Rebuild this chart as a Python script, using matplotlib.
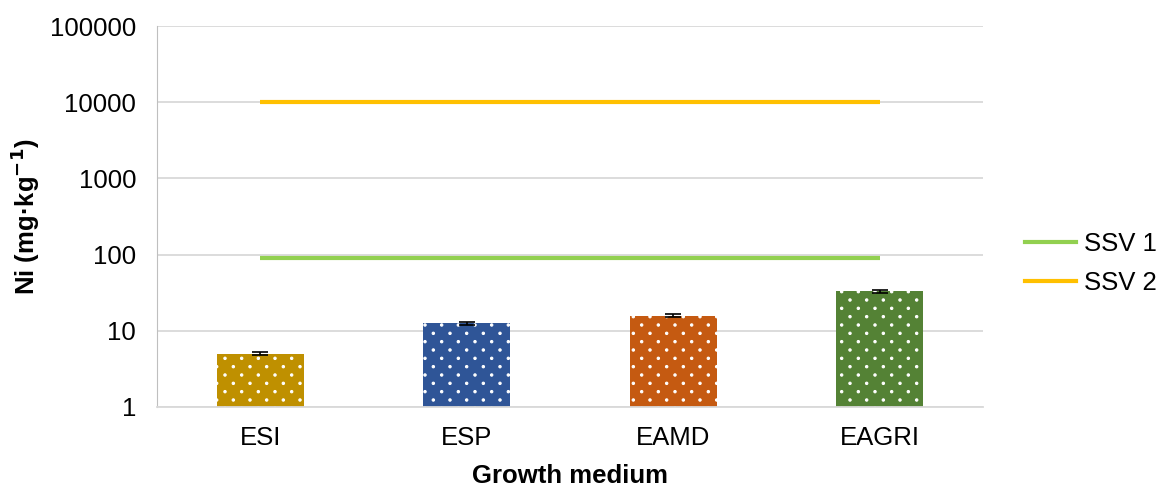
import matplotlib

matplotlib.use("Agg")

import matplotlib.hatch as mhatch
import matplotlib.pyplot as plt
import numpy as np
from matplotlib.lines import Line2D
from matplotlib.path import Path

plt.rcParams["font.family"] = ["Liberation Sans", "DejaVu Sans"]
plt.rcParams["hatch.linewidth"] = 0.8

MEDIA = ["ESI", "ESP", "EAMD", "EAGRI"]
NI = [5.0, 12.5, 15.8, 33.0]
NI_ERR = [0.25, 0.6, 0.8, 1.5]
BAR_COLORS = ["#BF9000", "#2F5597", "#C55A11", "#548235"]
SSV1 = 90
SSV2 = 10000


class DotLattice(mhatch.Shapes):
    # Excel-style dotted fill: dots every 1/n across, half-offset rows every 1/(2n) down
    filled = True
    size = 0.07

    def __init__(self, hatch, density):
        n = hatch.count(".") * density
        self.num_rows = n
        path = Path.unit_circle()
        self.shape_vertices = path.vertices
        self.shape_codes = path.codes
        if n == 0:
            self.num_shapes = 0
            self.num_vertices = 0
        else:
            self.num_shapes = (n + 1) * (n + 1) + n * n
            self.num_vertices = self.num_shapes * len(self.shape_vertices)

    def set_vertices_and_codes(self, vertices, codes):
        n = self.num_rows
        step = 1.0 / n
        verts = self.shape_vertices * step * self.size
        v_parts, c_parts = [], []
        for row in range(2 * n + 1):
            if row % 2 == 0:
                cols = np.linspace(0, 1, n + 1)
            else:
                cols = np.linspace(step / 2, 1 - step / 2, n)
            for col in cols:
                v_parts.append(verts + [col, row * step / 2])
                c_parts.append(self.shape_codes)
        np.concatenate(v_parts, out=vertices)
        np.concatenate(c_parts, out=codes)


mhatch._hatch_types = [DotLattice if t is mhatch.SmallFilledCircles else t for t in mhatch._hatch_types]

fig = plt.figure(figsize=(11.59, 4.88), dpi=100)
ax = fig.add_axes([0.1355, 0.166, 0.7125, 0.7807])

x = np.arange(len(MEDIA))
ax.bar(x, NI, width=0.42, color=BAR_COLORS, edgecolor="white", linewidth=0, hatch=".", zorder=2)
ax.errorbar(x, NI, yerr=NI_ERR, fmt="none", ecolor="black", elinewidth=1.2, capsize=6, capthick=1.2, zorder=3)

ax.plot([x[0], x[-1]], [SSV1, SSV1], color="#92D050", linewidth=3, solid_capstyle="butt", zorder=2)
ax.plot([x[0], x[-1]], [SSV2, SSV2], color="#FFC000", linewidth=3, solid_capstyle="butt", zorder=2)

ax.set_yscale("log")
ax.set_ylim(1, 100000)
ax.set_xlim(-0.5, len(MEDIA) - 0.5)
ax.set_yticks([1, 10, 100, 1000, 10000, 100000])
ax.set_yticklabels(["1", "10", "100", "1000", "10000", "100000"])
ax.yaxis.set_minor_locator(matplotlib.ticker.NullLocator())
ax.set_xticks(x)
ax.set_xticklabels(MEDIA)
ax.tick_params(axis="both", length=0, labelsize=18.5)
ax.tick_params(axis="x", pad=14)
ax.tick_params(axis="y", pad=15)
ax.grid(axis="y", color="#D9D9D9", linewidth=1.3, zorder=0)
ax.set_axisbelow(True)
for side in ["top", "right"]:
    ax.spines[side].set_visible(False)
ax.spines["left"].set_color("#BFBFBF")
ax.spines["bottom"].set_color("#D9D9D9")
ax.spines["bottom"].set_linewidth(1.3)

ax.set_xlabel("Growth medium", fontsize=18.5, weight="bold", labelpad=10)
ax.set_ylabel("Ni (mg·kg$^{\\mathbf{-1}}$)", fontsize=18.5, weight="bold", labelpad=6)

handles = [
    Line2D([0], [0], color="#92D050", linewidth=3, label="SSV 1"),
    Line2D([0], [0], color="#FFC000", linewidth=3, label="SSV 2"),
]
fig.legend(handles=handles, loc="center left", bbox_to_anchor=(0.884, 0.46), frameon=False,
           fontsize=18.5, handlelength=2.0, handletextpad=0.3, labelspacing=0.6,
           borderaxespad=0, borderpad=0)

fig.savefig("out.png", dpi=100, facecolor="white")
